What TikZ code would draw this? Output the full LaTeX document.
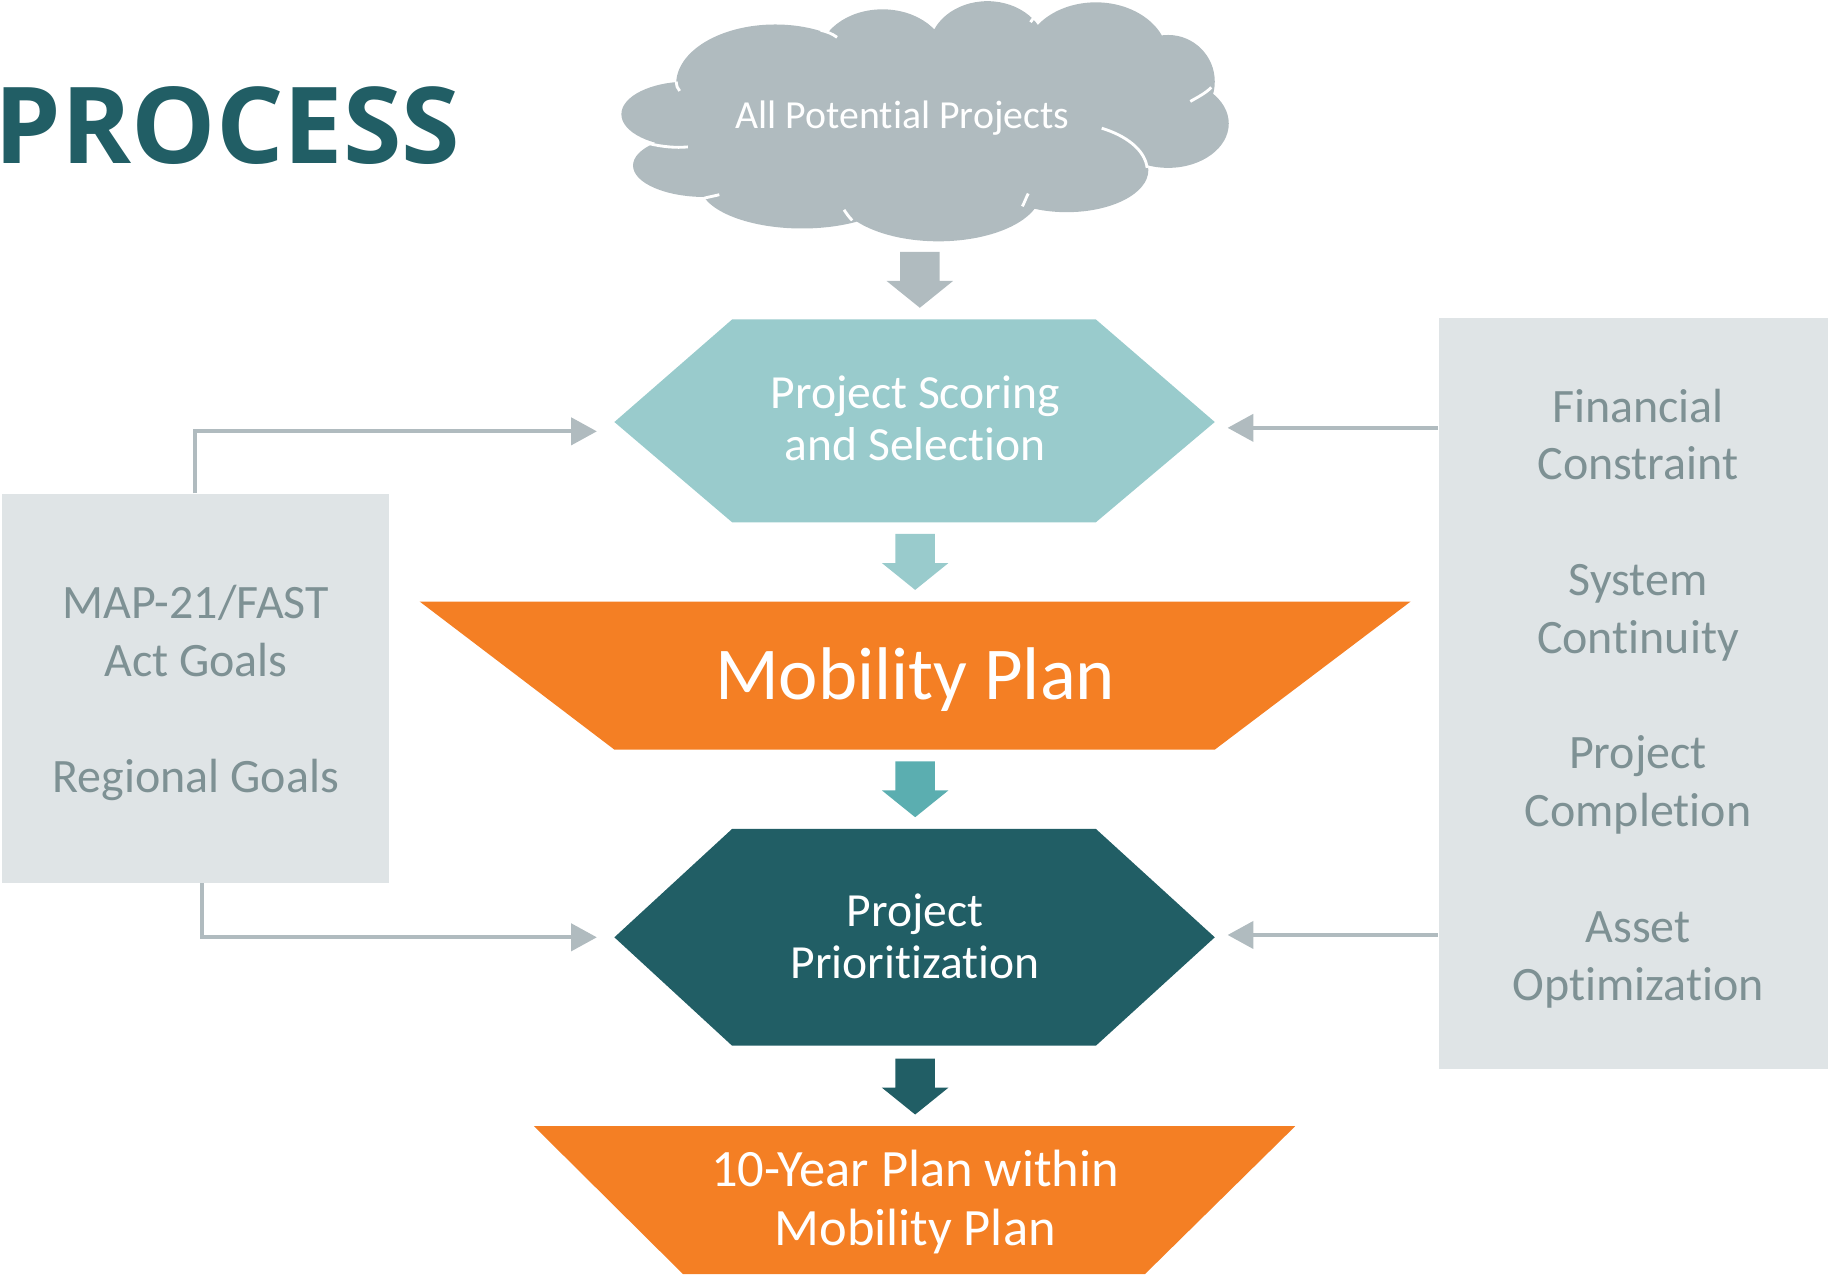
\documentclass[tikz,border=0pt]{standalone}
\usepackage{fontspec}
\setmainfont{Carlito}[Ligatures=NoCommon]
\newfontfamily\headfont{Open Sans}
\usetikzlibrary{arrows.meta,calc}
\definecolor{procc}{HTML}{215E65}
\definecolor{cloudc}{HTML}{B0BBBF}
\definecolor{hexlight}{HTML}{99CBCC}
\definecolor{orangec}{HTML}{F47F24}
\definecolor{tealmid}{HTML}{5BAEB0}
\definecolor{hexdark}{HTML}{215E65}
\definecolor{boxc}{HTML}{DFE4E6}
\definecolor{boxtext}{HTML}{7E9194}
\definecolor{connc}{HTML}{B0BBBF}
\tikzset{
  conn/.style={draw=connc,line width=1pt,-{Triangle[length=6.3pt,width=6.6pt]}},
  sidebox/.style={rectangle,fill=boxc,inner sep=0pt},
  sidetext/.style={inner sep=0pt,text=boxtext,align=center,font=\fontsize{11.7}{14.1}\selectfont},
  shapetext/.style={text=white,align=center,inner sep=0pt},
  cloudline/.style={draw=white,line width=0.7pt},
  blockarr/.pic={\fill[pic actions] (-17,0) -- (17,0) -- (17,25) -- (28.5,25) -- (0,48) -- (-28.5,25) -- (-17,25) -- cycle;}
}
\begin{document}
\begin{tikzpicture}[x=0.01cm,y=-0.01cm]
\useasboundingbox (0,0) rectangle (1568,1097);
% title
\node[anchor=base west,inner sep=0pt,text=procc,font=\headfont\bfseries\fontsize{25.9}{30}\selectfont] (title) at (-5,140) {PROCESS};
% cloud
\fill[cloudc]
  (590,98) ellipse [x radius=57, y radius=28]
  (605,142) ellipse [x radius=62, y radius=27]
  (688,158) ellipse [x radius=88, y radius=38]
  (805,164) ellipse [x radius=88, y radius=43]
  (915,146) ellipse [x radius=70, y radius=36]
  (1002,106) ellipse [x radius=52, y radius=38]
  (1002,70) ellipse [x radius=40, y radius=40]
  (940,50) ellipse [x radius=62, y radius=48]
  (847,42) ellipse [x radius=50, y radius=41]
  (757,50) ellipse [x radius=55, y radius=42]
  (665,72) ellipse [x radius=85, y radius=51]
  (790,105) ellipse [x radius=200, y radius=62];
\draw[cloudline] (556,123) .. controls (568,126) and (580,127) .. (590,126);
\draw[cloudline] (580,70) .. controls (580,73) and (581,76) .. (583,78);
\draw[cloudline] (704,26) .. controls (709,27) and (714,29) .. (718,32);
\draw[cloudline] (799,22) .. controls (800,19) and (801,17) .. (803,15);
\draw[cloudline] (884,19) .. controls (886,16) and (888,13) .. (891,11);
\draw[cloudline] (1021,87) .. controls (1028,83) and (1034,80) .. (1039,75);
\draw[cloudline] (945,110) .. controls (965,116) and (982,128) .. (984,144);
\draw[cloudline] (877,177) .. controls (879,173) and (880,170) .. (882,166);
\draw[cloudline] (724,180) .. controls (726,183) and (728,186) .. (731,189);
\draw[cloudline] (604,170) .. controls (608,169) and (613,168) .. (617,167);
\node[shapetext,font=\fontsize{9.7}{11}\selectfont] (cloud) at (774,101) {All Potential Projects};
% hexagon 1
\fill[hexlight] (527,362) coordinate (h1w) -- (628,274) -- (940,274) -- (1042,362) coordinate (h1e) -- (940,448) -- (628,448) -- cycle;
\node[shapetext,font=\fontsize{11.6}{12.7}\selectfont] (h1) at (785,359) {Project Scoring\\and Selection};
% mobility plan
\fill[orangec] (360,516) -- (1210,516) -- (1042,643) -- (527,643) -- cycle;
\node[shapetext,font=\fontsize{18.2}{20}\selectfont,anchor=base] (mp) at (785,600) {Mobility Plan};
% hexagon 2
\fill[hexdark] (527,804) coordinate (h2w) -- (628,711) -- (940,711) -- (1042,804) coordinate (h2e) -- (940,897) -- (628,897) -- cycle;
\node[shapetext,font=\fontsize{11.6}{12.7}\selectfont] (h2) at (785,803.5) {Project\\Prioritization};
% ten-year plan
\fill[orangec] (458,966) -- (1111,966) -- (982,1093) -- (586,1093) -- cycle;
\node[shapetext,font=\fontsize{12.8}{14.2}\selectfont] (ty) at (785,1031) {10-Year Plan within\\Mobility Plan};
% block arrows
\pic[fill=cloudc] at (789,216) {blockarr};
\pic[fill=hexlight] at (785,458) {blockarr};
\pic[fill=tealmid] at (785,653) {blockarr};
\pic[fill=hexdark] at (785,908) {blockarr};
% side boxes
\node[sidebox,minimum width=3.32cm,minimum height=3.33cm] (lbox) at (168,590.5) {};
\node[sidetext] (ltext) at (168,594.5) {MAP-21/FAST\\Act Goals\\[14.1pt]Regional Goals};
\node[sidebox,minimum width=3.34cm,minimum height=6.44cm] (rbox) at (1401,595) {};
\node[sidetext] (rtext) at (1405,599) {Financial\\Constraint\\[14.1pt]System\\Continuity\\[14.1pt]Project\\Completion\\[14.1pt]Asset\\Optimization};
% connectors
\coordinate (l1) at ($(h1w)+(-15,8)$);
\coordinate (l2) at ($(h2w)+(-15,0)$);
\coordinate (r1) at ($(h1e)+(11,5)$);
\coordinate (r2) at ($(h2e)+(11,-2)$);
\draw[conn] ($(lbox.north)+(-1,0)$) |- (l1);
\draw[conn] ($(lbox.south)+(5,0)$) |- (l2);
\draw[conn] (rbox.west |- r1) -- (r1);
\draw[conn] (rbox.west |- r2) -- (r2);
\end{tikzpicture}
\end{document}
